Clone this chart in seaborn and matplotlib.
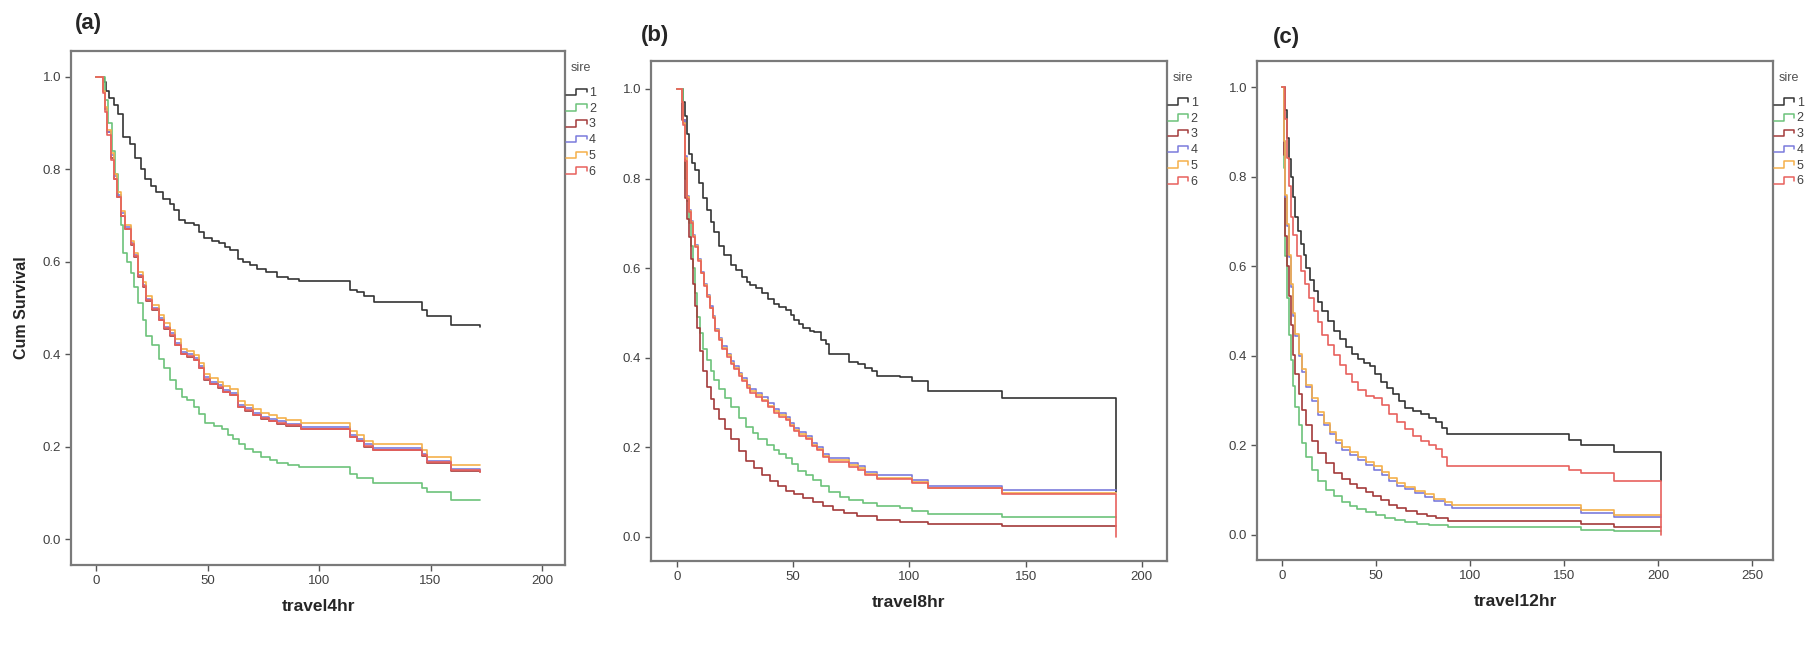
import pandas as pd
import seaborn as sns
import matplotlib
matplotlib.use("Agg")
import matplotlib.pyplot as plt
from matplotlib.lines import Line2D
from matplotlib.legend_handler import HandlerBase

sns.set_theme(style="white")
plt.rcParams['font.family'] = ['Liberation Sans', 'DejaVu Sans']

sires = ['1', '2', '3', '4', '5', '6']
colors = ['#333333', '#6cc27a', '#a33a3a', '#7b7bdc', '#f5b04a', '#e8615d']

# ---- panel (a): travel4hr ----
a_t1 = [0, 3.5, 4.5, 6, 8, 10, 12, 15, 17.5, 20, 22, 24.5, 27, 30, 33, 35, 37, 40, 44, 46,
        48.5, 52, 55, 58, 60, 63.5, 66, 69, 72, 76, 81, 86, 91, 114, 117, 120, 124.5, 146, 148.5, 159, 172]
a_s1 = [1.0, 0.99, 0.97, 0.955, 0.94, 0.92, 0.87, 0.855, 0.825, 0.80, 0.78, 0.765, 0.75, 0.735, 0.725, 0.713, 0.69, 0.685, 0.68, 0.665,
        0.652, 0.645, 0.64, 0.632, 0.625, 0.607, 0.6, 0.593, 0.585, 0.578, 0.568, 0.563, 0.559, 0.538, 0.534, 0.525, 0.512, 0.495, 0.482, 0.463, 0.46]
a_t2 = [0, 4, 5.5, 7, 8.5, 10, 11, 12, 14, 15.5, 17, 19, 21, 22.5, 25, 28, 30.5, 33, 36, 38.5,
        41, 44, 46, 49, 53, 56.5, 59, 61.5, 64, 67, 70.5, 74, 78, 81, 86, 91, 114, 117, 124, 146, 148.5, 159, 172]
a_s2 = [1.0, 0.95, 0.9, 0.84, 0.79, 0.74, 0.68, 0.62, 0.6, 0.576, 0.545, 0.51, 0.475, 0.44, 0.42, 0.39, 0.37, 0.345, 0.325, 0.307,
        0.3, 0.285, 0.27, 0.251, 0.245, 0.238, 0.225, 0.217, 0.205, 0.195, 0.188, 0.178, 0.172, 0.165, 0.16, 0.157, 0.14, 0.133, 0.122, 0.11, 0.101, 0.084, 0.084]
a_tg = [0, 3, 4, 5, 6.5, 8, 9.5, 11, 13, 15.5, 17, 19, 21, 22.5, 25, 28, 30.5, 33, 35.5, 38,
        41, 44, 46, 48.5, 51, 54.5, 57, 60, 63.5, 67, 70.5, 74, 77.5, 81, 85, 92, 114, 117, 120, 124, 146, 148.5, 159, 172]
a_s3 = [1.0, 0.97, 0.93, 0.88, 0.825, 0.78, 0.74, 0.70, 0.67, 0.636, 0.61, 0.568, 0.545, 0.516, 0.495, 0.473, 0.455, 0.44, 0.42, 0.40,
        0.395, 0.387, 0.37, 0.345, 0.335, 0.328, 0.318, 0.311, 0.285, 0.278, 0.268, 0.26, 0.255, 0.25, 0.245, 0.238, 0.22, 0.212, 0.2, 0.192, 0.18, 0.165, 0.148, 0.145]
a_s4 = [1.0, 0.97, 0.93, 0.88, 0.83, 0.785, 0.745, 0.705, 0.675, 0.64, 0.615, 0.572, 0.55, 0.52, 0.5, 0.478, 0.46, 0.445, 0.425, 0.405,
        0.4, 0.392, 0.375, 0.35, 0.34, 0.333, 0.323, 0.316, 0.29, 0.283, 0.273, 0.265, 0.26, 0.255, 0.25, 0.243, 0.225, 0.217, 0.205, 0.197, 0.185, 0.17, 0.152, 0.15]
a_s5 = [1.0, 0.97, 0.935, 0.885, 0.835, 0.79, 0.75, 0.71, 0.68, 0.645, 0.62, 0.578, 0.556, 0.527, 0.507, 0.485, 0.467, 0.452, 0.432, 0.412,
        0.407, 0.399, 0.382, 0.357, 0.348, 0.341, 0.331, 0.324, 0.298, 0.291, 0.281, 0.273, 0.268, 0.263, 0.258, 0.251, 0.233, 0.225, 0.213, 0.205, 0.193, 0.178, 0.161, 0.16]
a_s6 = [1.0, 0.965, 0.925, 0.875, 0.82, 0.78, 0.74, 0.70, 0.672, 0.638, 0.612, 0.57, 0.547, 0.518, 0.497, 0.474, 0.456, 0.441, 0.421, 0.401,
        0.396, 0.388, 0.371, 0.346, 0.336, 0.329, 0.319, 0.312, 0.286, 0.279, 0.269, 0.261, 0.256, 0.251, 0.246, 0.239, 0.221, 0.213, 0.201, 0.193, 0.181, 0.166, 0.149, 0.146]

# ---- panel (b): travel8hr ----
b_t1 = [0, 2.5, 3.4, 4.2, 5.1, 6.5, 7.7, 9.5, 11, 13, 14.5, 16, 18, 20, 23, 25.5, 28, 30, 31.5, 34,
        36.5, 39, 41.5, 44, 47, 49, 50.5, 52.5, 54, 57, 59, 62, 64, 65.5, 74, 78, 81, 84, 86, 96, 101, 108, 140, 189, 189]
b_s1 = [1.0, 0.97, 0.94, 0.9, 0.854, 0.835, 0.82, 0.79, 0.757, 0.73, 0.704, 0.68, 0.65, 0.63, 0.607, 0.595, 0.58, 0.57, 0.563, 0.555,
        0.545, 0.532, 0.52, 0.513, 0.506, 0.495, 0.484, 0.475, 0.466, 0.46, 0.457, 0.44, 0.43, 0.409, 0.39, 0.385, 0.378, 0.37, 0.36, 0.356, 0.347, 0.325, 0.311, 0.311, 0.1]
b_t2 = [0, 2.5, 3.4, 4.2, 5.1, 6, 6.8, 7.6, 8.5, 9.8, 11, 12.8, 14.5, 16, 17.9, 20.5, 23, 26.5, 29.8, 32.5,
        35, 38.5, 41.7, 44, 46.8, 49.5, 52, 55.5, 58.7, 62, 65.5, 70, 74, 80, 86, 96, 101, 108, 140, 189]
b_s2 = [1.0, 0.93, 0.8, 0.75, 0.70, 0.65, 0.6, 0.545, 0.49, 0.455, 0.42, 0.395, 0.37, 0.35, 0.33, 0.31, 0.29, 0.265, 0.245, 0.232,
        0.219, 0.205, 0.193, 0.185, 0.175, 0.162, 0.148, 0.137, 0.126, 0.113, 0.1, 0.09, 0.082, 0.075, 0.069, 0.064, 0.058, 0.051, 0.045, 0.045]
b_t3 = [0, 2, 3.4, 4.2, 5.1, 6, 6.8, 7.6, 8.5, 9.8, 11, 12.8, 14.5, 16, 17.9, 20.5, 23, 26.5, 29.8, 33,
        36.6, 40, 43.4, 47, 50.2, 54, 58.7, 63, 67, 72, 77.4, 86, 96, 108, 140, 189]
b_s3 = [1.0, 0.93, 0.757, 0.71, 0.67, 0.62, 0.565, 0.515, 0.466, 0.415, 0.37, 0.335, 0.307, 0.285, 0.263, 0.24, 0.219, 0.192, 0.17, 0.153,
        0.139, 0.125, 0.113, 0.103, 0.095, 0.086, 0.078, 0.068, 0.06, 0.053, 0.047, 0.038, 0.034, 0.029, 0.025, 0.025]
b_tg = [0, 2, 2.6, 3.4, 4.3, 5, 6, 7, 7.7, 9, 10.2, 11.5, 12.8, 14, 15.3, 16.5, 17.9, 19.5, 21.3, 23,
        24.7, 26.5, 28, 30, 31.5, 34, 36.6, 39, 41.7, 44, 46.8, 48.5, 50.2, 52.5, 55.3, 58, 60.4, 63, 65.5, 74,
        78, 80.8, 86, 101, 108, 140, 189, 189]
b_s4 = [1.0, 0.97, 0.93, 0.85, 0.76, 0.73, 0.705, 0.675, 0.652, 0.62, 0.592, 0.565, 0.54, 0.515, 0.493, 0.465, 0.445, 0.425, 0.408, 0.393,
        0.382, 0.366, 0.355, 0.34, 0.33, 0.322, 0.312, 0.298, 0.285, 0.276, 0.268, 0.255, 0.243, 0.233, 0.225, 0.21, 0.2, 0.185, 0.177, 0.165,
        0.158, 0.145, 0.137, 0.127, 0.113, 0.104, 0.104, 0.104]
b_s5 = [1.0, 0.97, 0.925, 0.845, 0.758, 0.728, 0.702, 0.672, 0.65, 0.618, 0.59, 0.562, 0.537, 0.512, 0.49, 0.462, 0.442, 0.422, 0.405, 0.389,
        0.378, 0.363, 0.351, 0.336, 0.325, 0.316, 0.306, 0.293, 0.28, 0.271, 0.263, 0.25, 0.239, 0.229, 0.221, 0.206, 0.196, 0.181, 0.171, 0.16,
        0.153, 0.141, 0.132, 0.123, 0.11, 0.098, 0.098, 0.098]
b_s6 = [1.0, 0.97, 0.92, 0.84, 0.755, 0.725, 0.7, 0.67, 0.647, 0.615, 0.588, 0.56, 0.535, 0.51, 0.488, 0.46, 0.44, 0.42, 0.402, 0.386,
        0.375, 0.36, 0.348, 0.333, 0.322, 0.313, 0.303, 0.29, 0.277, 0.268, 0.26, 0.247, 0.236, 0.226, 0.218, 0.203, 0.193, 0.178, 0.168, 0.157,
        0.15, 0.139, 0.13, 0.121, 0.108, 0.095, 0.095, 0.0]

# ---- panel (c): travel12hr ----
c_t1 = [0, 1.5, 2.5, 3.5, 4.6, 5.6, 6.7, 8.3, 9.9, 11.5, 13, 15, 17.2, 19.3, 21.4, 24.5, 27.7, 31, 34, 37,
        40.3, 43.5, 46.6, 49.7, 52.8, 56, 59, 62, 65.4, 69.5, 73.8, 78, 82, 85, 87.5, 152.5, 158.8, 176.6, 201.3, 201.3]
c_s1 = [1.0, 0.95, 0.887, 0.84, 0.8, 0.755, 0.71, 0.68, 0.65, 0.625, 0.597, 0.57, 0.544, 0.52, 0.5, 0.478, 0.456, 0.437, 0.42, 0.405,
        0.394, 0.385, 0.377, 0.36, 0.342, 0.328, 0.315, 0.3, 0.284, 0.277, 0.27, 0.262, 0.253, 0.24, 0.226, 0.212, 0.2, 0.185, 0.185, 0.121]
c_t2 = [0, 1, 1.5, 2.5, 3.6, 4.6, 5.7, 7, 8.8, 10.8, 13, 16, 19.3, 23.5, 27.7, 32, 36, 40, 44.5, 50,
        55, 60, 65.4, 72, 78, 88.5, 158.8, 176.6, 201.3]
c_s2 = [1.0, 0.82, 0.623, 0.53, 0.447, 0.39, 0.333, 0.285, 0.245, 0.205, 0.174, 0.145, 0.121, 0.1, 0.086, 0.074, 0.064, 0.057, 0.051, 0.044,
        0.038, 0.033, 0.029, 0.025, 0.023, 0.018, 0.011, 0.009, 0.009]
c_t3 = [0, 1, 1.5, 2.5, 3.6, 4.6, 5.7, 7, 8.8, 10.8, 13, 16, 19.3, 23.5, 27.7, 32, 36, 40, 44.5, 48.5,
        52.8, 57, 61, 66, 71.7, 77, 82, 88.5, 158.8, 176.6, 201.3]
c_s3 = [1.0, 0.85, 0.667, 0.6, 0.535, 0.47, 0.403, 0.36, 0.315, 0.28, 0.245, 0.21, 0.183, 0.16, 0.139, 0.125, 0.113, 0.104, 0.095, 0.086,
        0.077, 0.068, 0.06, 0.053, 0.047, 0.042, 0.038, 0.032, 0.025, 0.018, 0.018]
c_tg = [0, 1, 1.5, 2.5, 3.6, 4.6, 5.7, 7, 8.8, 10.8, 13, 16, 19.3, 22.5, 25.6, 28.7, 31.9, 36, 40.3, 44.5,
        48.7, 53, 57, 61, 65.4, 70.5, 76, 81, 86.5, 90.6, 158.8, 176.6, 201.3]
c_s4 = [1.0, 0.88, 0.755, 0.69, 0.62, 0.555, 0.49, 0.445, 0.4, 0.365, 0.33, 0.3, 0.268, 0.245, 0.225, 0.205, 0.19, 0.178, 0.168, 0.157,
        0.146, 0.133, 0.12, 0.11, 0.102, 0.093, 0.085, 0.075, 0.067, 0.06, 0.05, 0.04, 0.04]
c_s5 = [1.0, 0.88, 0.76, 0.695, 0.625, 0.56, 0.495, 0.45, 0.405, 0.37, 0.335, 0.305, 0.274, 0.25, 0.231, 0.212, 0.197, 0.185, 0.175, 0.164,
        0.153, 0.14, 0.127, 0.117, 0.108, 0.099, 0.091, 0.081, 0.073, 0.066, 0.055, 0.045, 0.045]
c_t6 = [0, 1.5, 2.5, 3.5, 4.6, 6, 7.8, 10, 12, 14.5, 17.2, 19.3, 21.4, 24.5, 27.7, 31, 34, 37, 40.3, 44.5,
        48.7, 53, 57, 61, 65.4, 69.5, 73.8, 78, 82, 85, 87.5, 152.5, 158.8, 176.6, 201.3, 201.3]
c_s6 = [1.0, 0.93, 0.843, 0.78, 0.71, 0.67, 0.623, 0.59, 0.56, 0.53, 0.5, 0.475, 0.447, 0.425, 0.403, 0.38, 0.36, 0.342, 0.324, 0.31,
        0.306, 0.29, 0.27, 0.252, 0.236, 0.222, 0.21, 0.2, 0.192, 0.175, 0.155, 0.145, 0.139, 0.121, 0.121, 0.0]

panels = [
    ("(a)", "travel4hr", [(a_t1, a_s1), (a_t2, a_s2), (a_tg, a_s3), (a_tg, a_s4), (a_tg, a_s5), (a_tg, a_s6)],
     [0.0391, 0.1294, 0.2717, 0.792], (-11.2, 210.3), [0, 50, 100, 150, 200], (-0.056, 1.056)),
    ("(b)", "travel8hr", [(b_t1, b_s1), (b_t2, b_s2), (b_t3, b_s3), (b_tg, b_s4), (b_tg, b_s5), (b_tg, b_s6)],
     [0.3581, 0.1356, 0.2838, 0.7704], (-11.2, 210.8), [0, 50, 100, 150, 200], (-0.054, 1.0625)),
    ("(c)", "travel12hr", [(c_t1, c_s1), (c_t2, c_s2), (c_t3, c_s3), (c_tg, c_s4), (c_tg, c_s5), (c_t6, c_s6)],
     [0.6914, 0.1371, 0.2838, 0.7689], (-13.3, 261), [0, 50, 100, 150, 200, 250], (-0.056, 1.059)),
]
label_pos = [(75, 23), (641, 35), (1273, 37)]


class StepHandler(HandlerBase):
    # little step glyph like the SPSS legend
    def create_artists(self, legend, orig_handle, xd, yd, w, h, fontsize, trans):
        xs = [-xd + w * f for f in (0, 0.45, 0.45, 0.95, 0.95)]
        ys = [-yd + h * f for f in (0.1, 0.1, 0.85, 0.85, 0.45)]
        return [Line2D(xs, ys, color=orig_handle.get_color(), lw=1.1, transform=trans)]


fig = plt.figure(figsize=(18.18, 6.49), dpi=100)
fig.patch.set_facecolor('white')

for i, (tag, xlab, series, pos, xlim, xticks, ylim) in enumerate(panels):
    ax = fig.add_axes(pos)
    frames = []
    for sire, (t, s) in zip(sires, series):
        frames.append(pd.DataFrame({'time': t, 'surv': s, 'sire': sire}))
    df = pd.concat(frames, ignore_index=True)
    sns.lineplot(data=df, x='time', y='surv', hue='sire', hue_order=sires,
                 palette=dict(zip(sires, colors)), drawstyle='steps-post',
                 estimator=None, sort=False, legend=False, lw=1.2, ax=ax)
    ax.set_xlim(*xlim)
    ax.set_ylim(*ylim)
    ax.set_xticks(xticks)
    ax.set_yticks([0, 0.2, 0.4, 0.6, 0.8, 1.0])
    ax.set_yticklabels(['0.0', '0.2', '0.4', '0.6', '0.8', '1.0'])
    ax.tick_params(axis='both', direction='out', length=4, width=1, color='#555555',
                   labelsize=9.5, labelcolor='#404040', pad=3, left=True, bottom=True)
    for sp in ax.spines.values():
        sp.set_color('#7a7a7a')
        sp.set_linewidth(1.6)
    ax.set_xlabel(xlab, fontsize=12.5, fontweight='bold', labelpad=9)
    if i == 0:
        ax.set_ylabel('Cum Survival', fontsize=11.5, fontweight='bold', labelpad=10)
    else:
        ax.set_ylabel('')

    handles = [Line2D([], [], color=c) for c in colors]
    leg = ax.legend(handles, sires, title='sire', loc='upper left', bbox_to_anchor=(0.995, 0.985),
                    frameon=False, handler_map={Line2D: StepHandler()}, fontsize=9,
                    title_fontsize=9, handlelength=1.7, handletextpad=0.1,
                    labelspacing=0.3, borderaxespad=0.1, borderpad=0.2)
    leg._legend_box.sep = 9
    for txt in leg.get_texts():
        txt.set_color('#404040')
    leg.get_title().set_color('#505050')

    lx, ly = label_pos[i]
    fig.text(lx / 1818, 1 - ly / 649, tag, fontsize=16, fontweight='bold', va='center', ha='left')

fig.savefig('out.png', dpi=100)
